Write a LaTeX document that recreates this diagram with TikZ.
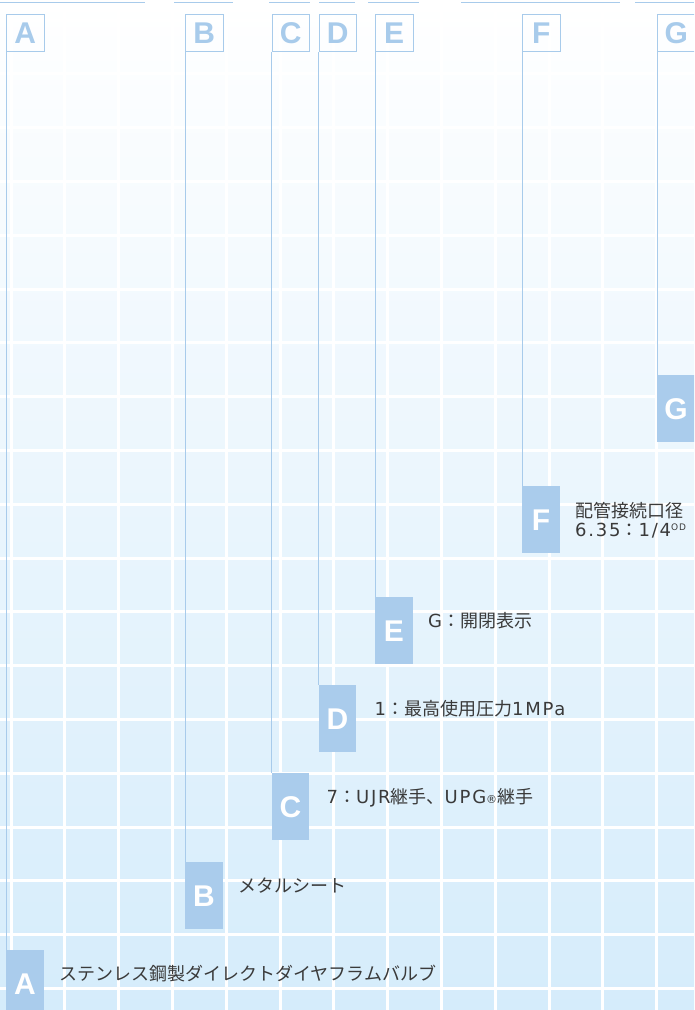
\documentclass[tikz,border=0pt]{standalone}
\usepackage{fontspec}
\setmainfont{Noto Sans CJK JP}
\newfontfamily\tagfont{Liberation Sans}
\newfontfamily\latfont{DejaVu Sans}[LetterSpace=10]
\usepackage{tikz}
\usetikzlibrary{positioning}
\definecolor{cLine}{RGB}{168,203,235}
\definecolor{cTag}{RGB}{170,204,236}
\definecolor{cText}{RGB}{58,58,58}
\definecolor{cBgMid}{RGB}{234,246,254}
\definecolor{cBgLow}{RGB}{213,236,251}
\newcommand{\lat}[1]{{\latfont #1}}
\tikzset{
	topbox/.style ={rectangle, draw=cLine, line width=1pt, minimum width=37.5pt, minimum height=37.5pt, inner sep=0pt, anchor=north west, text=cLine, font=\tagfont\bfseries\fontsize{30}{30}\selectfont},
	tagbox/.style ={rectangle, fill=cTag, minimum width=37.5pt, minimum height=67pt, inner sep=0pt, anchor=north west, text=white, font=\tagfont\bfseries\fontsize{30}{30}\selectfont},
	lbl/.style    ={text=cText, font=\fontsize{18}{19}\selectfont, inner sep=0pt, align=left},
	leader/.style ={draw=cLine, line width=1pt},
	gridline/.style={white, line width=3pt},
}

\begin{document}
\begin{tikzpicture}[x=1pt, y=-1pt]
	\useasboundingbox (0,0) rectangle (694,1010);
	\clip (0,0) rectangle (694,1010);
	% background and grid
	\shade[top color=white, middle color=cBgMid, bottom color=cBgLow] (0,0) rectangle (694,1010);
	\foreach \k in {0,...,12}
		\draw[gridline] ({11+53.8*\k},0) -- ({11+53.8*\k},1010);
	\foreach \k in {0,...,18}
		\draw[gridline] (0,{988.5-53.8*\k}) -- (694,{988.5-53.8*\k});
	\foreach \a/\b in {0/145, 174/233, 269/310, 319/355, 368/419, 461/620, 635/694}
		\draw[leader] (\a,2.5) -- (\b,2.5);
	% letter boxes at the top and tags below
	\foreach \n/\x/\y in {A/6/950, B/185/862, C/271.5/773, D/318.5/685, E/375/597, F/522/486, G/657/375} {
		\node[topbox] (top\n) at (\x,13.5) {\n};
		\node[tagbox] (tag\n) at (\x,\y) {\n};
		\draw[leader] (top\n.south west) -- (tag\n.north west);
	}
	% labels
	\node[lbl, right=15pt of tagA.north east, yshift=-30pt, anchor=base west] (lblA) {ステンレス鋼製ダイレクトダイヤフラムバルブ};
	\node[lbl, right=15pt of tagB.north east, yshift=-30pt, anchor=base west] (lblB) {メタルシート};
	\node[lbl, right=17pt of tagC.north east, yshift=-30pt, anchor=base west] (lblC) {\lat{7}：\lat{UJR}継手、\lat{UPG}{\latfont\fontsize{11}{11}\selectfont ®}継手};
	\node[lbl, right=18pt of tagD.north east, yshift=-30pt, anchor=base west] (lblD) {\lat{1}：最高使用圧力\lat{1MPa}};
	\node[lbl, right=15pt of tagE.north east, yshift=-30pt, anchor=base west] (lblE) {\lat{G}：開閉表示};
	\node[lbl, right=15pt of tagF.north east, yshift=-50pt, anchor=base west] (lblF) {配管接続口径\\\lat{6.35}：\lat{1/4}\raisebox{6pt}{\latfont\fontsize{9}{9}\selectfont OD}};
\end{tikzpicture}
\end{document}
